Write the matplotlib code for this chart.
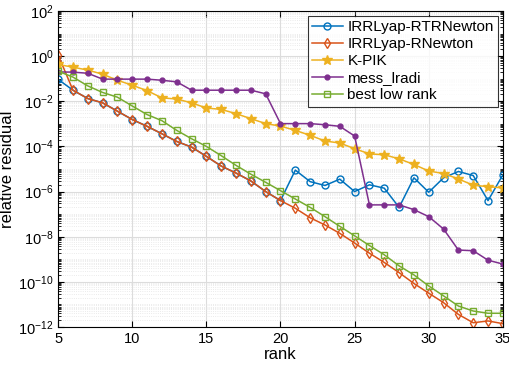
import matplotlib
matplotlib.use("Agg")
import matplotlib.pyplot as plt
import numpy as np
from matplotlib.ticker import LogLocator, NullFormatter

plt.rcParams['font.family'] = ['Liberation Sans', 'DejaVu Sans']
plt.rcParams['mathtext.fontset'] = 'custom'
plt.rcParams['mathtext.rm'] = 'Liberation Sans'

rank = np.arange(5, 36)

# log10 of the relative residual
log_rtr = [-1.03, -1.51, -1.88, -2.07, -2.44, -2.81, -3.11, -3.44, -3.78, -4.03,
           -4.44, -4.87, -5.18, -5.53, -6.0, -6.4, -5.05, -5.56, -5.73, -5.45,
           -6.0, -5.7, -5.85, -6.7, -5.39, -6.03, -5.39, -5.11, -5.29, -6.4, -5.26]
log_rn = [0.05, -1.51, -1.88, -2.07, -2.44, -2.81, -3.11, -3.44, -3.78, -4.03,
          -4.44, -4.87, -5.18, -5.53, -6.0, -6.4, -6.74, -7.16, -7.48, -7.85,
          -8.28, -8.73, -9.14, -9.59, -10.07, -10.5, -10.92, -11.44, -11.81, -11.73, -11.85]
log_kpik = [-0.37, -0.49, -0.62, -0.8, -1.07, -1.29, -1.53, -1.85, -1.9, -2.07,
            -2.3, -2.36, -2.55, -2.77, -2.99, -3.1, -3.29, -3.51, -3.76, -3.85,
            -4.1, -4.33, -4.37, -4.55, -4.8, -5.09, -5.2, -5.44, -5.72, -5.78, -5.84]
log_lradi = [-0.7, -0.71, -0.76, -1.02, -1.02, -1.02, -1.02, -1.07, -1.14, -1.51,
             -1.51, -1.51, -1.51, -1.51, -1.67, -2.99, -2.99, -2.99, -3.04, -3.11,
             -3.54, -6.59, -6.59, -6.59, -6.8, -7.11, -7.66, -8.59, -8.62, -9.04, -9.21]
log_best = [-0.67, -0.93, -1.32, -1.61, -1.82, -2.21, -2.59, -2.86, -3.29, -3.66,
            -4.0, -4.41, -4.84, -5.23, -5.59, -5.96, -6.33, -6.7, -7.11, -7.54,
            -7.96, -8.39, -8.8, -9.29, -9.69, -10.18, -10.62, -11.07, -11.29, -11.39, -11.39]

names = ['IRRLyap-RTRNewton', 'IRRLyap-RNewton', 'K-PIK', 'mess_lradi', 'best low rank']
colors = ['#0072BD', '#D95319', '#EDB120', '#7E2F8E', '#77AC30']

fig = plt.figure(figsize=(5.1, 3.65), dpi=100)
ax = fig.add_axes([0.114, 0.104, 0.872, 0.866])

ax.semilogy(rank, 10 ** np.array(log_rtr), ls='-', marker='o', color=colors[0], mfc='none', ms=5, lw=1.1, label=names[0])
ax.semilogy(rank, 10 ** np.array(log_rn), ls='-', marker='d', color=colors[1], mfc='none', ms=5, lw=1.1, label=names[1])
ax.semilogy(rank, 10 ** np.array(log_kpik), ls='-', marker='*', color=colors[2], ms=7, lw=1.1, label=names[2])
ax.semilogy(rank, 10 ** np.array(log_lradi), ls='-', marker='.', color=colors[3], ms=7, lw=1.1, label=names[3])
ax.semilogy(rank, 10 ** np.array(log_best), ls='-', marker='s', color=colors[4], mfc='none', ms=4.5, lw=1.1, label=names[4])

ax.set_xlim(5, 35)
ax.set_ylim(1e-12, 1e2)
ax.set_xticks([5, 10, 15, 20, 25, 30, 35])
ax.set_yticks([10.0 ** k for k in range(-12, 3, 2)])
ax.yaxis.set_minor_locator(LogLocator(base=10, subs=np.arange(1, 10), numticks=50))
ax.yaxis.set_minor_formatter(NullFormatter())

ax.grid(True, which='major', color='#dcdcdc', lw=0.8)
ax.grid(True, which='minor', axis='y', color='#e4e4e4', lw=0.6, ls=':')
ax.set_axisbelow(True)
ax.tick_params(direction='in', which='both', top=True, right=True, labelsize=10.5)
ax.tick_params(which='major', length=4)
ax.tick_params(which='minor', length=2)
for s in ax.spines.values():
    s.set_linewidth(0.8)

ax.set_xlabel('rank', fontsize=12, labelpad=1)
ax.set_ylabel('relative residual', fontsize=12, labelpad=2)

leg = ax.legend(loc='upper right', fontsize=11, fancybox=False, edgecolor='black',
                borderaxespad=0.3, handlelength=2.0, labelspacing=0.2, borderpad=0.3,
                handletextpad=0.3)
leg.get_frame().set_linewidth(0.8)

fig.savefig('out.png', dpi=100)
